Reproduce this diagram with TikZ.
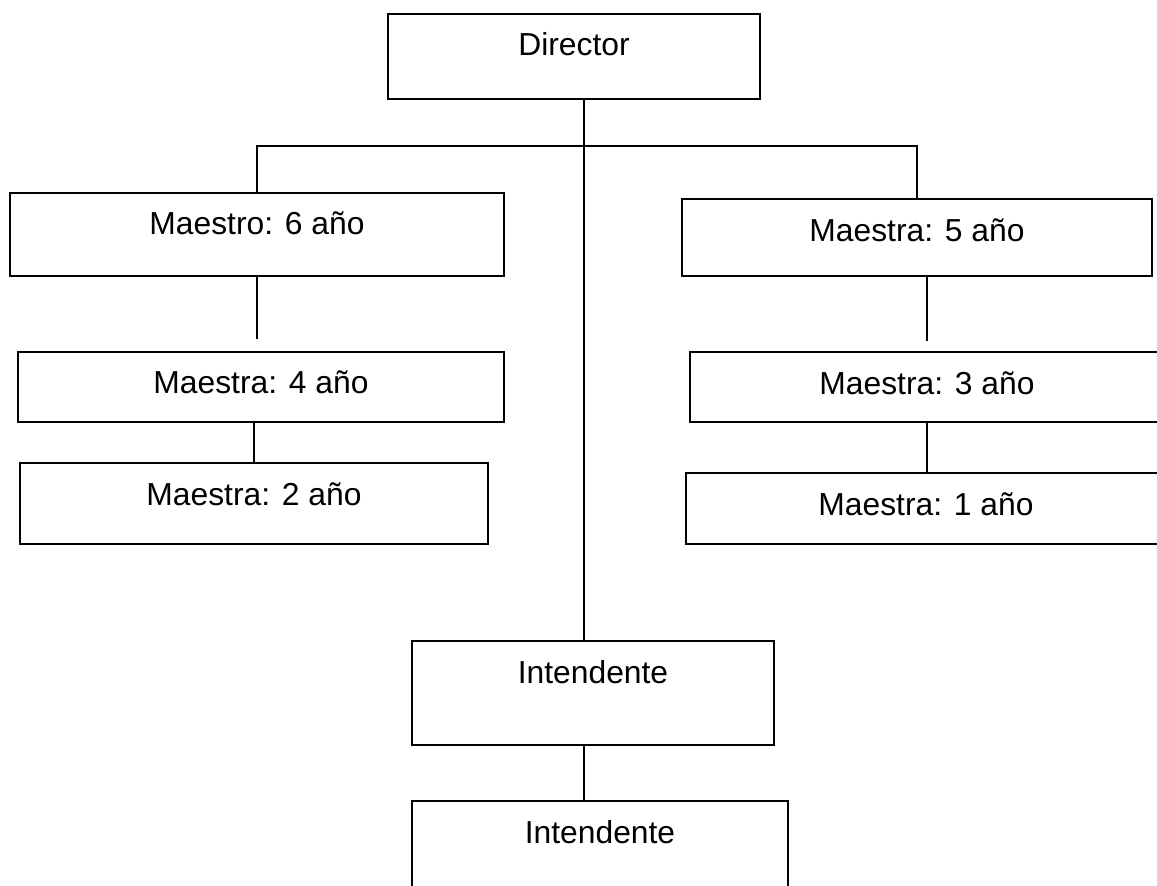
\documentclass[tikz,border=0pt]{standalone}
\usepackage{fontspec}
\setmainfont{Liberation Sans}
\tikzset{
  box/.style={draw, line width=1pt, anchor=north, inner ysep=0pt,
    font=\fontsize{15.9}{19}\selectfont}
}
\begin{document}
\begin{tikzpicture}[x=0.5pt,y=-0.5pt,line width=1pt]
\useasboundingbox (0,0) rectangle (1157,885);
% cajas del organigrama
\node[box,minimum width=186pt,text height=20.5pt,text depth=22pt] (dir) at (574,13) {Director};
\node[box,minimum width=247pt,text height=20.5pt,text depth=21pt] (m6) at (257,192) {Maestro: 6 año};
\node[box,minimum width=235pt,text height=21pt,text depth=17.5pt] (m5) at (917,198) {Maestra: 5 año};
\node[box,minimum width=243pt,text height=20.5pt,text depth=14.5pt] (m4) at (261,351) {Maestra: 4 año};
\node[box,minimum width=237pt,text height=21pt,text depth=14pt] (m3) at (927,351) {Maestra: 3 año};
\node[box,minimum width=234pt,text height=21pt,text depth=19.5pt] (m2) at (254,462) {Maestra: 2 año};
\node[box,minimum width=240pt,text height=21pt,text depth=14.5pt] (m1) at (926,472) {Maestra: 1 año};
\node[box,minimum width=181pt,text height=21pt,text depth=31pt] (int1) at (593,640) {Intendente};
\node[box,minimum width=188pt,text height=21pt,text depth=31pt] (int2) at (600,800) {Intendente};

% lineas
\coordinate (trunk) at (584,146);
\draw (trunk |- dir.south) -- (trunk |- int1.north);
\draw (m6.north) |- (trunk) -| (m5.north);
\draw[shorten >=6pt] (m6.south) -- (m6.south |- m4.north);
\draw (m2.north |- m4.south) -- (m2.north);
\draw[shorten >=5pt] (m3.north |- m5.south) -- (m3.north);
\draw (m3.south) -- (m3.south |- m1.north);
\draw (trunk |- int1.south) -- (trunk |- int2.north);
\end{tikzpicture}
\end{document}
